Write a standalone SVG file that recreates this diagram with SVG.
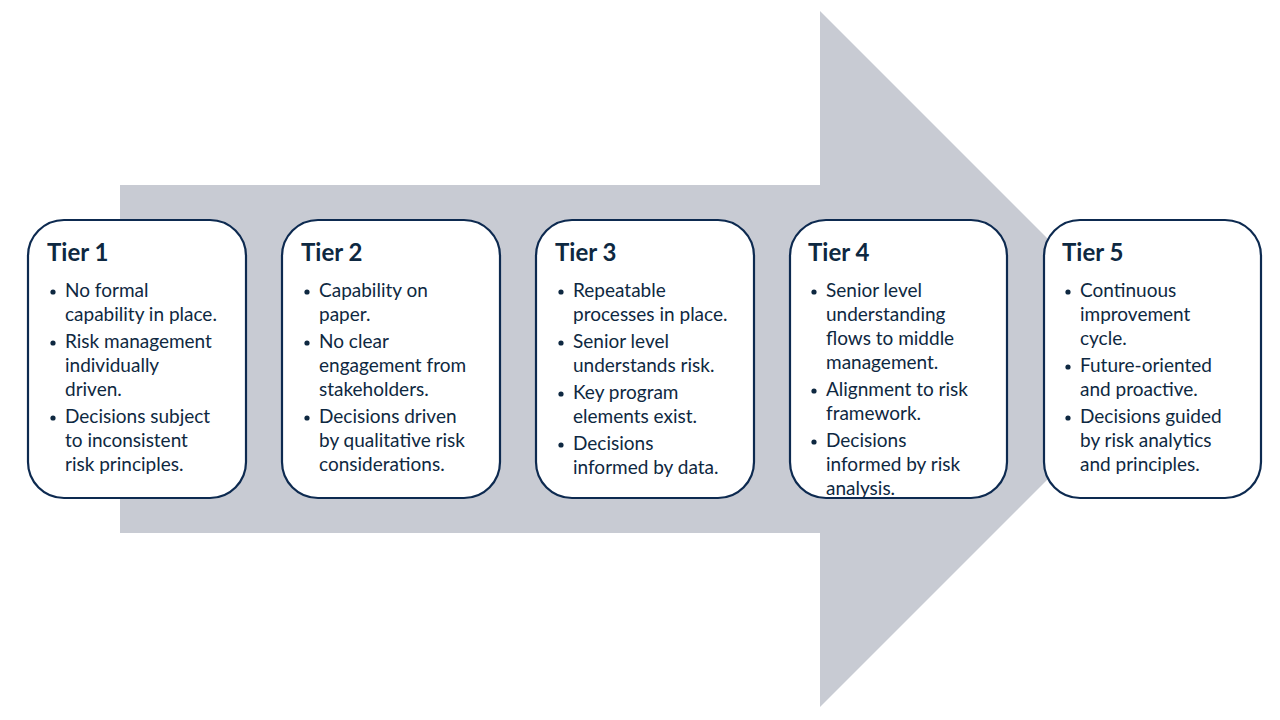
<svg xmlns="http://www.w3.org/2000/svg" width="1280" height="720" viewBox="0 0 1280 720">
<style>
.box{fill:#fff;stroke:#0D2A50;stroke-width:2.2}
.t{font-family:Lato,"Liberation Sans",sans-serif;fill:#0E2841}
.h{font-size:24px;font-weight:bold}
.b{font-size:19px}
.d{fill:#0E2841}
</style>
<rect width="1280" height="720" fill="#fff"/>
<polygon points="120,185 820,185 820,11 1168,359 820,707 820,533 120,533" fill="#C8CBD3"/>
<g id="tier1">
<rect class="box" x="28" y="220" width="218" height="278" rx="36"/>
<text class="t h" x="47" y="261">Tier 1</text>
<circle class="d" cx="53" cy="292" r="2.6"/><circle class="d" cx="53" cy="343" r="2.6"/><circle class="d" cx="53" cy="418" r="2.6"/>
<text class="t b"><tspan x="65" y="297">No formal</tspan><tspan x="65" y="321">capability in place.</tspan><tspan x="65" y="348">Risk management</tspan><tspan x="65" y="372">individually</tspan><tspan x="65" y="396">driven.</tspan><tspan x="65" y="423">Decisions subject</tspan><tspan x="65" y="447">to inconsistent</tspan><tspan x="65" y="471">risk principles.</tspan></text>
</g>
<g id="tier2">
<rect class="box" x="282" y="220" width="218" height="278" rx="36"/>
<text class="t h" x="301" y="261">Tier 2</text>
<circle class="d" cx="307" cy="292" r="2.6"/><circle class="d" cx="307" cy="343" r="2.6"/><circle class="d" cx="307" cy="418" r="2.6"/>
<text class="t b"><tspan x="319" y="297">Capability on</tspan><tspan x="319" y="321">paper.</tspan><tspan x="319" y="348">No clear</tspan><tspan x="319" y="372">engagement from</tspan><tspan x="319" y="396">stakeholders.</tspan><tspan x="319" y="423">Decisions driven</tspan><tspan x="319" y="447">by qualitative risk</tspan><tspan x="319" y="471">considerations.</tspan></text>
</g>
<g id="tier3">
<rect class="box" x="536" y="220" width="218" height="278" rx="36"/>
<text class="t h" x="555" y="261">Tier 3</text>
<circle class="d" cx="561" cy="292" r="2.6"/><circle class="d" cx="561" cy="343" r="2.6"/><circle class="d" cx="561" cy="394" r="2.6"/><circle class="d" cx="561" cy="445" r="2.6"/>
<text class="t b"><tspan x="573" y="297">Repeatable</tspan><tspan x="573" y="321">processes in place.</tspan><tspan x="573" y="348">Senior level</tspan><tspan x="573" y="372">understands risk.</tspan><tspan x="573" y="399">Key program</tspan><tspan x="573" y="423">elements exist.</tspan><tspan x="573" y="450">Decisions</tspan><tspan x="573" y="474">informed by data.</tspan></text>
</g>
<g id="tier4">
<rect class="box" x="790" y="220" width="217" height="278" rx="36"/>
<text class="t h" x="808" y="261">Tier 4</text>
<circle class="d" cx="814" cy="292" r="2.6"/><circle class="d" cx="814" cy="391" r="2.6"/><circle class="d" cx="814" cy="442" r="2.6"/>
<text class="t b"><tspan x="826" y="297">Senior level</tspan><tspan x="826" y="321">understanding</tspan><tspan x="826" y="345">flows to middle</tspan><tspan x="826" y="369">management.</tspan><tspan x="826" y="396">Alignment to risk</tspan><tspan x="826" y="420">framework.</tspan><tspan x="826" y="447">Decisions</tspan><tspan x="826" y="471">informed by risk</tspan><tspan x="826" y="495">analysis.</tspan></text>
</g>
<g id="tier5">
<rect class="box" x="1044" y="220" width="217" height="278" rx="36"/>
<text class="t h" x="1062" y="261">Tier 5</text>
<circle class="d" cx="1068" cy="292" r="2.6"/><circle class="d" cx="1068" cy="367" r="2.6"/><circle class="d" cx="1068" cy="418" r="2.6"/>
<text class="t b"><tspan x="1080" y="297">Continuous</tspan><tspan x="1080" y="321">improvement</tspan><tspan x="1080" y="345">cycle.</tspan><tspan x="1080" y="372">Future-oriented</tspan><tspan x="1080" y="396">and proactive.</tspan><tspan x="1080" y="423">Decisions guided</tspan><tspan x="1080" y="447">by risk analytics</tspan><tspan x="1080" y="471">and principles.</tspan></text>
</g>
<g id="connectors"></g>
</svg>
